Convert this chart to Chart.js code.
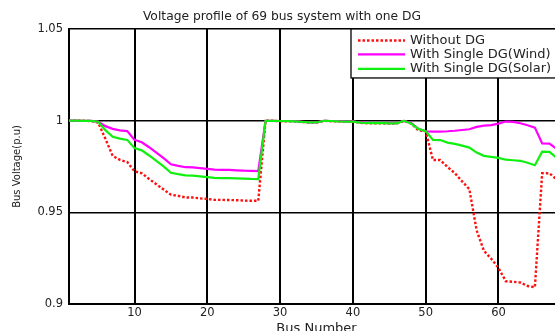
<!DOCTYPE html>
<html>
<head>
<meta charset="utf-8">
<script src="https://cdn.jsdelivr.net/npm/chart.js@4"></script>
<style>
  html, body { margin: 0; padding: 0; background: #fff; overflow: hidden; }
  #wrap { width: 594px; height: 340px; }
</style>
</head>
<body>
<div id="wrap"><canvas id="c" width="594" height="340"></canvas></div>
<script>
const buses = [1,2,3,4,5,6,7,8,9,10,11,12,13,14,15,16,17,18,19,20,21,22,23,24,25,26,27,28,29,30,31,32,33,34,35,36,37,38,39,40,41,42,43,44,45,46,47,48,49,50,51,52,53,54,55,56,57,58,59,60,61,62,63,64,65,66,67,68,69];

const withoutDG = [1.0000,1.0000,0.9999,0.9998,0.9990,0.9901,0.9808,0.9786,0.9774,0.9724,
  0.9713,0.9682,0.9653,0.9624,0.9596,0.9590,0.9581,0.9581,0.9576,0.9573,
  0.9568,0.9568,0.9567,0.9566,0.9564,0.9563,0.9563,0.9999,0.9999,0.9997,
  0.9997,0.9996,0.9993,0.9990,0.9990,0.9999,0.9997,0.9996,0.9995,0.9995,
  0.9988,0.9986,0.9985,0.9985,0.9984,0.9984,0.9998,0.9985,0.9947,0.9942,
  0.9785,0.9785,0.9747,0.9714,0.9669,0.9626,0.9401,0.9290,0.9247,0.9197,
  0.9124,0.9121,0.9117,0.9098,0.9092,0.9713,0.9713,0.9679,0.9679];

const withWind = [1.0000,1.0000,0.9999,0.9999,0.9995,0.9970,0.9955,0.9947,0.9943,0.9895,
  0.9882,0.9855,0.9825,0.9795,0.9762,0.9753,0.9746,0.9745,0.9741,0.9737,
  0.9733,0.9732,0.9731,0.9729,0.9727,0.9726,0.9725,0.9999,0.9999,0.9998,
  0.9998,0.9997,0.9994,0.9991,0.9991,0.9999,0.9998,0.9997,0.9996,0.9996,
  0.9990,0.9988,0.9987,0.9987,0.9986,0.9986,0.9999,0.9987,0.9955,0.9942,
  0.9940,0.9940,0.9942,0.9945,0.9949,0.9953,0.9966,0.9973,0.9976,0.9984,
  0.9995,0.9993,0.9986,0.9975,0.9962,0.9876,0.9875,0.9846,0.9845];

const withSolar = [1.0000,1.0000,0.9999,0.9999,0.9994,0.9948,0.9912,0.9902,0.9895,0.9850,
  0.9838,0.9810,0.9780,0.9750,0.9716,0.9708,0.9702,0.9700,0.9696,0.9692,
  0.9688,0.9687,0.9686,0.9685,0.9684,0.9682,0.9681,0.9999,0.9999,0.9998,
  0.9997,0.9996,0.9993,0.9991,0.9990,0.9999,0.9998,0.9996,0.9995,0.9995,
  0.9989,0.9987,0.9986,0.9986,0.9985,0.9985,0.9999,0.9984,0.9955,0.9943,
  0.9895,0.9894,0.9880,0.9873,0.9864,0.9853,0.9826,0.9808,0.9802,0.9797,
  0.9787,0.9784,0.9781,0.9770,0.9757,0.9831,0.9830,0.9797,0.9796];

const seriesNames = ['Without DG', 'With Single DG(Wind)', 'With Single DG(Solar)'];
const xTicks = [10, 20, 30, 40, 50, 60];
const yTicks = [0.9, 0.95, 1, 1.05];
const yTickLabels = ['0.9', '0.95', '1', '1.05'];

const FONT = "'DejaVu Sans', 'Liberation Sans', sans-serif";
const TXT = '#222';

function pts(vals) { return buses.map((b, i) => ({ x: b, y: vals[i] })); }

const legendPlugin = {
  id: 'boxLegend',
  afterDatasetsDraw(chart) {
    const ctx = chart.ctx;
    const area = chart.chartArea;
    const x0 = 351, y0 = area.top, w = 240, h = 49;
    ctx.save();
    ctx.fillStyle = '#fff';
    ctx.fillRect(x0, y0, w, h);
    ctx.strokeStyle = '#000';
    ctx.lineWidth = 1.3;
    ctx.strokeRect(x0, y0, w, h);
    const rows = [y0 + 11.5, y0 + 25.5, y0 + 40];
    const order = [0, 1, 2];
    order.forEach((di, k) => {
      const ds = chart.data.datasets[di];
      ctx.beginPath();
      ctx.strokeStyle = ds.borderColor;
      ctx.lineWidth = ds.borderWidth;
      ctx.setLineDash(ds.borderDash || []);
      ctx.moveTo(358, rows[k]);
      ctx.lineTo(405, rows[k]);
      ctx.stroke();
      ctx.setLineDash([]);
      ctx.fillStyle = TXT;
      ctx.font = '13px ' + FONT;
      ctx.textBaseline = 'middle';
      ctx.textAlign = 'left';
      ctx.fillText(ds.label, 410, rows[k]);
    });
    ctx.restore();
  }
};

new Chart(document.getElementById('c'), {
  type: 'line',
  data: {
    datasets: [
      { label: seriesNames[0], data: pts(withoutDG), borderColor: '#ff1010', borderWidth: 2.4,
        borderDash: [2.5, 2], pointRadius: 0, tension: 0, fill: false, order: 3 },
      { label: seriesNames[1], data: pts(withWind), borderColor: '#ff00ff', borderWidth: 2.2,
        pointRadius: 0, tension: 0, fill: false, order: 2 },
      { label: seriesNames[2], data: pts(withSolar), borderColor: '#10f010', borderWidth: 2.2,
        pointRadius: 0, tension: 0, fill: false, order: 1 }
    ]
  },
  options: {
    responsive: false,
    animation: false,
    layout: { padding: { left: 0, right: 30, top: 0, bottom: 0 } },
    plugins: {
      legend: { display: false },
      tooltip: { enabled: false },
      title: {
        display: true,
        text: 'Voltage profile of 69 bus system with one DG',
        color: TXT,
        font: { family: FONT, size: 12.3, weight: 'normal', lineHeight: 1.2 },
        padding: { top: 9, bottom: 5.2 }
      }
    },
    scales: {
      x: {
        type: 'linear',
        min: 1, max: 69,
        afterFit: s => { s.height = 36; },
        afterBuildTicks: s => { s.ticks = xTicks.map(v => ({ value: v })); },
        ticks: { color: TXT, font: { family: FONT, size: 11.5 }, padding: 2, autoSkip: false, maxRotation: 0,
                 callback: v => String(v) },
        grid: { color: '#000', lineWidth: 2, drawTicks: false },
        border: { display: true, color: '#000', width: 2 },
        title: { display: true, text: 'Bus Number', color: TXT,
                 font: { family: FONT, size: 13 }, padding: { top: 0, bottom: 4 } }
      },
      y: {
        min: 0.9, max: 1.05,
        afterFit: s => { s.width = 69; },
        afterBuildTicks: s => { s.ticks = yTicks.map(v => ({ value: v })); },
        ticks: { color: TXT, font: { family: FONT, size: 11.5 }, padding: 6,
                 callback: v => { const i = yTicks.findIndex(t => Math.abs(t - v) < 1e-9); return i >= 0 ? yTickLabels[i] : ''; } },
        grid: { color: '#000', lineWidth: 1.5, drawTicks: false },
        border: { display: true, color: '#000', width: 2 },
        title: { display: true, text: 'Bus Voltage(p.u)', color: TXT,
                 font: { family: FONT, size: 10 }, padding: { top: 11, bottom: 0 } }
      }
    }
  },
  plugins: [legendPlugin]
});
</script>
</body>
</html>
